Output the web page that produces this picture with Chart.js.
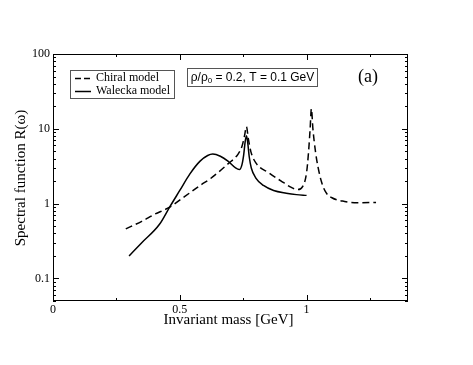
<!DOCTYPE html>
<html><head><meta charset="utf-8">
<script src="https://cdn.jsdelivr.net/npm/chart.js@4/dist/chart.umd.min.js"></script>
<style>html,body{margin:0;padding:0;background:#fff}#wrap{width:473px;height:365px}</style>
</head><body><div id="wrap"><canvas id="c" width="473" height="365"></canvas></div>
<script>
const chiralMass = [0.287,0.35,0.40,0.458,0.52,0.58,0.62,0.69,0.73,0.745,0.755,0.763,0.770,0.78,0.80,0.85,0.90,0.94,0.965,0.985,1.0,1.008,1.014,1.019,1.025,1.035,1.045,1.06,1.077,1.10,1.15,1.2,1.274];
const chiralR    = [0.46,0.58,0.72,0.89,1.25,1.75,2.15,3.4,4.6,5.8,8.0,10.7,7.5,5.0,3.5,2.6,2.0,1.65,1.54,1.7,2.6,5,10,18.5,10,5,3.1,1.9,1.4,1.2,1.07,1.03,1.04];
const waleckaMass = [0.30,0.35,0.42,0.46,0.50,0.54,0.58,0.61,0.63,0.66,0.69,0.72,0.735,0.745,0.752,0.758,0.763,0.768,0.774,0.782,0.80,0.83,0.87,0.92,0.96,1.0];
const waleckaR    = [0.20,0.30,0.53,0.90,1.5,2.5,3.7,4.4,4.6,4.3,3.7,3.0,2.85,3.3,4.5,6.8,8.1,6.5,4.2,3.0,2.2,1.75,1.5,1.38,1.32,1.29];
const xTickLabels = [0, 0.5, 1];
const yTickLabels = [0.1, 1, 10, 100];

const pts = (xs, ys) => xs.map((x, i) => ({x, y: ys[i]}));
const serif = '"Liberation Serif","Times New Roman",serif';
const sans = '"Liberation Sans",Arial,sans-serif';

const decor = {
  id: 'decor',
  afterDraw(chart) {
    const {ctx, chartArea: a, scales: {x, y}} = chart;
    ctx.save();
    ctx.strokeStyle = '#000'; ctx.lineWidth = 1;
    ctx.strokeRect(a.left + 0.5, a.top + 0.5, a.right - a.left - 1, a.bottom - a.top - 1);
    const xt = [];
    for (let v = 0; v <= 1.4001; v += 0.25) xt.push([v, Math.abs(v*2 - Math.round(v*2)) < 1e-6 ? 6 : 3]);
    ctx.beginPath();
    xt.forEach(([v, L]) => {
      const px = Math.round(x.getPixelForValue(v)) + 0.5;
      ctx.moveTo(px, a.bottom); ctx.lineTo(px, a.bottom - L);
      ctx.moveTo(px, a.top); ctx.lineTo(px, a.top + L);
    });
    for (let e = -2; e <= 2; e++) {
      for (let m = 1; m <= 9; m++) {
        const v = m * Math.pow(10, e);
        if (v < 0.05 - 1e-9 || v > 100 + 1e-9) continue;
        const L = m === 1 ? 6 : 3;
        const py = Math.round(y.getPixelForValue(v)) + 0.5;
        ctx.moveTo(a.left, py); ctx.lineTo(a.left + L, py);
        ctx.moveTo(a.right, py); ctx.lineTo(a.right - L, py);
      }
    }
    ctx.stroke();
    ctx.fillStyle = '#000';
    ctx.font = '15px ' + serif;
    ctx.textAlign = 'center'; ctx.textBaseline = 'middle';
    ctx.fillText('Invariant mass [GeV]', (a.left + a.right) / 2 - 2, 320);
    ctx.save();
    ctx.translate(21, 178); ctx.rotate(-Math.PI / 2);
    ctx.fillText('Spectral function R(\u03c9)', 0, 0);
    ctx.restore();
    ctx.strokeStyle = '#555';
    ctx.strokeRect(70.5, 70.5, 104, 28);
    ctx.strokeStyle = '#000'; ctx.lineWidth = 1.5;
    ctx.setLineDash([6, 3]);
    ctx.beginPath(); ctx.moveTo(75, 78.5); ctx.lineTo(91, 78.5); ctx.stroke();
    ctx.setLineDash([]);
    ctx.beginPath(); ctx.moveTo(75, 91.5); ctx.lineTo(91, 91.5); ctx.stroke();
    ctx.font = '12px ' + serif; ctx.textAlign = 'left';
    ctx.fillText(chart.data.datasets[0].label, 96, 78);
    ctx.fillText(chart.data.datasets[1].label, 96, 91);
    ctx.lineWidth = 1; ctx.strokeStyle = '#555';
    ctx.strokeRect(187.5, 68.5, 130, 18);
    const p1 = '\u03c1/\u03c1', p2 = '0', p3 = ' = 0.2, T = 0.1 GeV';
    ctx.font = '12px ' + sans; const w1 = ctx.measureText(p1).width, w3 = ctx.measureText(p3).width;
    ctx.font = '8px ' + sans; const w2 = ctx.measureText(p2).width;
    let sx = 252.5 - (w1 + w2 + w3) / 2;
    ctx.font = '12px ' + sans; ctx.fillText(p1, sx, 77.5); sx += w1;
    ctx.font = '8px ' + sans; ctx.fillText(p2, sx, 81); sx += w2;
    ctx.font = '12px ' + sans; ctx.fillText(p3, sx, 77.5);
    ctx.font = '18px ' + serif; ctx.textAlign = 'center';
    ctx.fillText('(a)', 368, 77);
    ctx.restore();
  }
};

new Chart(document.getElementById('c'), {
  type: 'scatter',
  data: {
    datasets: [
      {label: 'Chiral model', data: pts(chiralMass, chiralR), showLine: true, borderColor: '#000', borderWidth: 1.5, borderDash: [7, 4], pointRadius: 0, cubicInterpolationMode: 'monotone'},
      {label: 'Walecka model', data: pts(waleckaMass, waleckaR), showLine: true, borderColor: '#000', borderWidth: 1.5, pointRadius: 0, cubicInterpolationMode: 'monotone'}
    ]
  },
  options: {
    responsive: false, animation: false, devicePixelRatio: 1,
    layout: {padding: {left: 0, top: 54, right: 65, bottom: 0}},
    plugins: {legend: {display: false}, tooltip: {enabled: false}},
    scales: {
      x: {
        type: 'linear', min: 0, max: 1.4,
        afterBuildTicks: s => { s.ticks = xTickLabels.map(v => ({value: v})); },
        afterFit: s => { s.height = 64; },
        grid: {display: false, drawTicks: false},
        border: {display: false},
        ticks: {padding: 2, color: '#000', font: {family: serif, size: 12}, callback: v => String(v)}
      },
      y: {
        type: 'logarithmic', min: 0.05, max: 100,
        afterBuildTicks: s => { s.ticks = yTickLabels.map(v => ({value: v})); },
        afterFit: s => { s.width = 53; },
        grid: {display: false, drawTicks: false},
        border: {display: false},
        ticks: {padding: 3, color: '#000', font: {family: serif, size: 12}, callback: v => String(v)}
      }
    }
  },
  plugins: [decor]
});
</script></body></html>
